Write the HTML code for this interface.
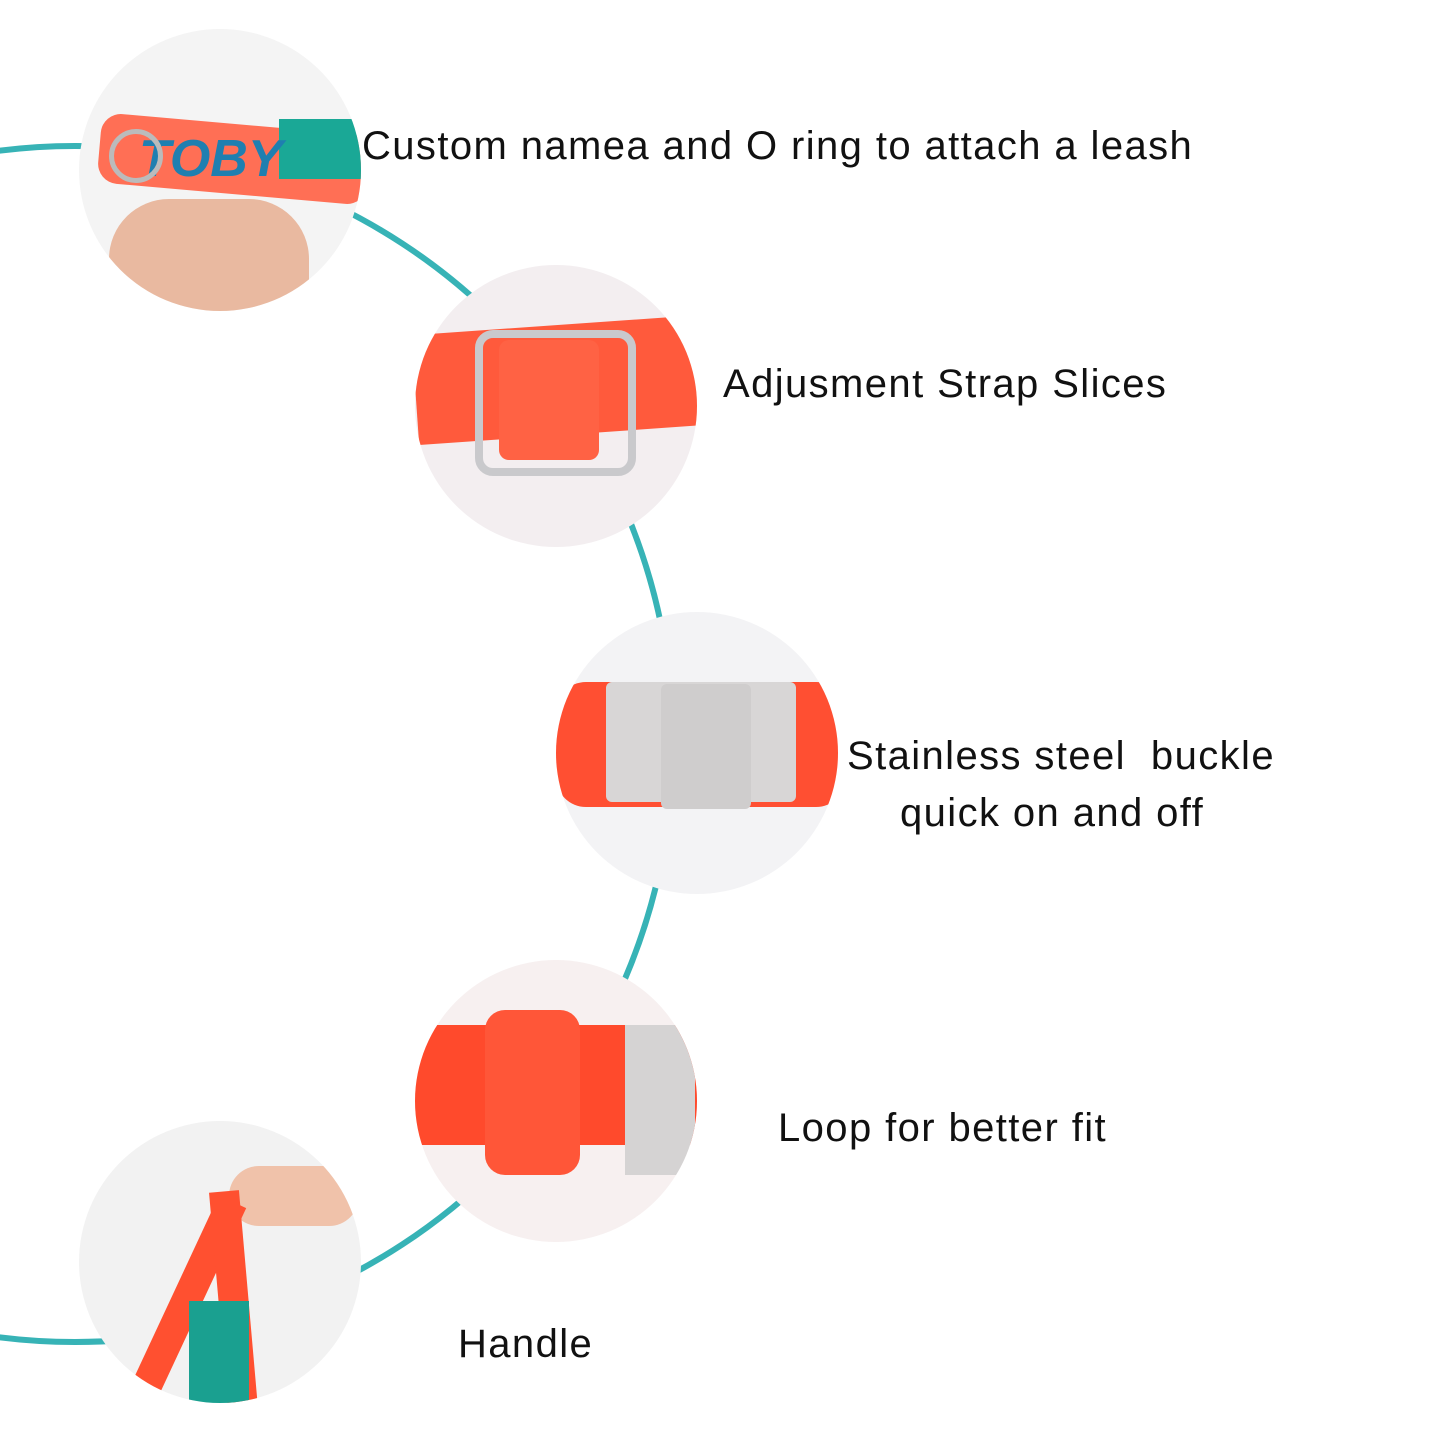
<!DOCTYPE html>
<html><head><meta charset="utf-8"><style>
body{margin:0;width:1445px;height:1445px;background:#fff;position:relative;overflow:hidden;font-family:"Liberation Sans",sans-serif;}
.c{position:absolute;width:282px;height:282px;border-radius:50%;overflow:hidden;background:#f1f1f3;}
.c div{position:absolute;}
.t{position:absolute;font-size:40px;letter-spacing:1.4px;color:#111;white-space:nowrap;}
</style></head><body>
<svg width="1445" height="1445" style="position:absolute;left:0;top:0">
<circle cx="75" cy="744" r="598" fill="none" stroke="#37b3b6" stroke-width="6"/>
</svg>

<div class="c" style="left:79px;top:29px;background:#f4f4f4">
  <div style="left:20px;top:95px;width:270px;height:70px;background:#ff6f55;border-radius:20px;transform:rotate(5deg)"></div>
  <div style="left:200px;top:90px;width:100px;height:60px;background:#1aa896;"></div>
  <div style="left:60px;top:100px;font-size:52px;font-weight:bold;color:#1f7fb0;font-style:italic">TOBY</div>
  <div style="left:30px;top:170px;width:200px;height:130px;background:#e9b9a0;border-radius:60px 60px 20px 20px"></div>
  <div style="left:30px;top:100px;width:44px;height:44px;border:5px solid #bbb;border-radius:50%"></div>
</div>

<div class="c" style="left:415px;top:265px;background:#f3eef0">
  <div style="left:0;top:60px;width:290px;height:110px;background:#ff5a3c;transform:rotate(-4deg)"></div>
  <div style="left:60px;top:65px;width:145px;height:130px;border:8px solid #c9c9cc;border-radius:18px"></div>
  <div style="left:84px;top:75px;width:100px;height:120px;background:#ff6244;border-radius:10px"></div>
</div>

<div class="c" style="left:556px;top:612px;background:#f3f3f5">
  <div style="left:0;top:70px;width:290px;height:125px;background:#ff4f32;border-radius:30px"></div>
  <div style="left:50px;top:70px;width:190px;height:120px;background:#d8d6d6;border-radius:6px"></div>
  <div style="left:105px;top:72px;width:90px;height:125px;background:#cfcdcd;border-radius:6px"></div>
</div>

<div class="c" style="left:415px;top:960px;background:#f7f0f0">
  <div style="left:0;top:65px;width:290px;height:120px;background:#ff4a2c;"></div>
  <div style="left:70px;top:50px;width:95px;height:165px;background:#ff5638;border-radius:20px"></div>
  <div style="left:210px;top:65px;width:70px;height:150px;background:#d5d3d3"></div>
</div>

<div class="c" style="left:79px;top:1121px;background:#f2f2f2">
  <div style="left:150px;top:45px;width:130px;height:60px;background:#f0c2aa;border-radius:30px"></div>
  <div style="left:90px;top:70px;width:30px;height:230px;background:#ff5030;transform:rotate(25deg)"></div>
  <div style="left:140px;top:70px;width:30px;height:230px;background:#ff5030;transform:rotate(-5deg)"></div>
  <div style="left:110px;top:180px;width:60px;height:110px;background:#1aa090"></div>
</div>

<div class="t" style="left:362px;top:124px">Custom namea and O ring to attach a leash</div>
<div class="t" style="left:723px;top:362px">Adjusment Strap Slices</div>
<div class="t" style="left:847px;top:734px">Stainless steel&nbsp; buckle</div>
<div class="t" style="left:900px;top:791px">quick on and off</div>
<div class="t" style="left:778px;top:1106px">Loop for better fit</div>
<div class="t" style="left:458px;top:1322px">Handle</div>
</body></html>
